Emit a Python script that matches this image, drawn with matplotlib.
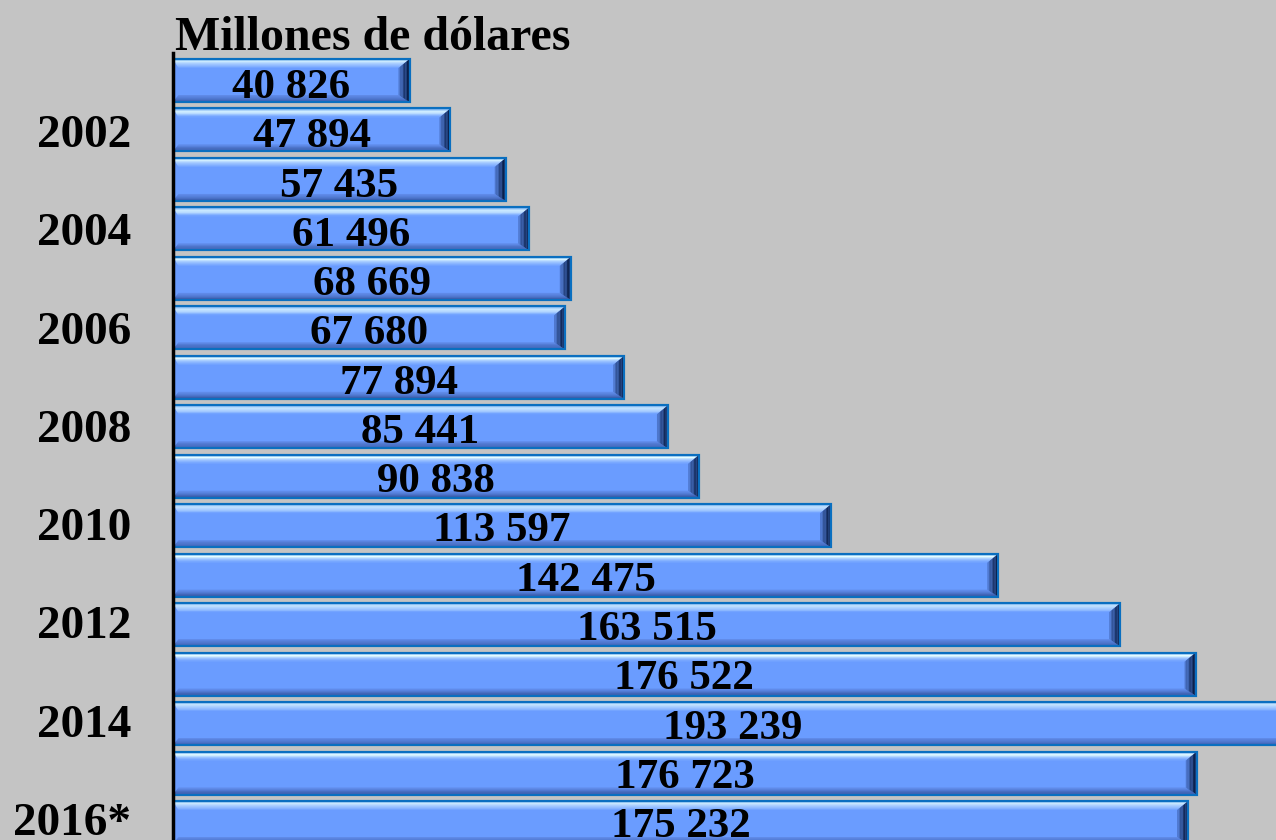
import matplotlib
matplotlib.use("Agg")
from matplotlib import pyplot as plt
from matplotlib.patches import Polygon
import numpy as np

years = ["2001", "2002", "2003", "2004", "2005", "2006", "2007", "2008",
         "2009", "2010", "2011", "2012", "2013", "2014", "2015", "2016*"]
values = [40826, 47894, 57435, 61496, 68669, 67680, 77894, 85441,
          90838, 113597, 142475, 163515, 176522, 193239, 176723, 175232]
year_labels = ["", "2002", "", "2004", "", "2006", "", "2008",
               "", "2010", "", "2012", "", "2014", "", "2016*"]
title = "Millones de dólares"

BG = "#c4c4c4"
FILL = "#6a9cff"
EDGE = "#0a6fc0"

plt.rcParams["font.family"] = ["Liberation Serif", "DejaVu Serif"]
plt.rcParams["font.weight"] = "bold"

W, H = 1276, 840
fig = plt.figure(figsize=(W / 100, H / 100), dpi=100, facecolor=BG)
left_px = 173
ax = fig.add_axes([left_px / W, 0, 1 - left_px / W, 1])
ax.set_facecolor(BG)

pitch = 49.47
c0 = 80.5
xmax = 190400
ax.set_xlim(0, xmax)
ax.set_ylim((H - c0) / pitch, -c0 / pitch)

bar_h = 0.87
y = np.arange(len(values))
ax.barh(y, values, height=bar_h, color=FILL, edgecolor=EDGE, linewidth=1.5, zorder=2)

# bevel sizes in data units
px_x = xmax / (W - left_px)
px_y = 1 / pitch
bx = 11 * px_x
by = 9 * px_y
bb = 7 * px_y


def lerp(c1, c2, t):
    c1 = np.array(matplotlib.colors.to_rgb(c1))
    c2 = np.array(matplotlib.colors.to_rgb(c2))
    return tuple(c1 + (c2 - c1) * t)


def top_col(t):
    if t < 0.3:
        return lerp("#3c8ae0", "#e6ffff", t / 0.3)
    return lerp("#e6ffff", FILL, (t - 0.3) / 0.7)


n = 8
for yi, v in zip(y, values):
    top = yi - bar_h / 2
    bot = yi + bar_h / 2
    # top bevel: bright band fading into the fill
    for k in range(n):
        t0, t1 = k / n, (k + 1) / n
        ya, yb = top + t0 * by, top + t1 * by
        ax.add_patch(Polygon([(t0 * bx * 0.5, ya), (v - t0 * bx, ya),
                              (v - t1 * bx, yb), (t1 * bx * 0.5, yb)],
                             closed=True, facecolor=top_col((t0 + t1) / 2),
                             edgecolor="none", zorder=3))
    # bottom bevel
    for k in range(n):
        t0, t1 = k / n, (k + 1) / n
        ya, yb = bot - t0 * bb, bot - t1 * bb
        col = lerp("#30509a", "#6590f0", t0)
        ax.add_patch(Polygon([(t0 * bx * 0.5, ya), (v - t0 * bx, ya),
                              (v - t1 * bx, yb), (t1 * bx * 0.5, yb)],
                             closed=True, facecolor=col, edgecolor="none", zorder=3))
    # right bevel
    for k in range(n):
        t0, t1 = k / n, (k + 1) / n
        xa, xb = v - t0 * bx, v - t1 * bx
        col = lerp("#041840", "#5b88e6", t0 ** 1.3)
        ax.add_patch(Polygon([(xa, top + t0 * by), (xb, top + t1 * by),
                              (xb, bot - t1 * bb), (xa, bot - t0 * bb)],
                             closed=True, facecolor=col, edgecolor="none", zorder=3))
    # outline on top of bevels
    ax.add_patch(plt.Rectangle((0, top), v, bar_h, facecolor="none",
                               edgecolor=EDGE, linewidth=1.5, zorder=4))
    ax.text(v / 2, yi + (17.5 - 0.2 * yi) * px_y, f"{v:,}".replace(",", " "),
            ha="center", va="baseline", fontsize=31, fontweight="bold",
            color="black", zorder=5)

# year labels on the left
for yi, lab in zip(y, year_labels):
    if lab:
        ax.text(-42 * px_x, yi + (17.5 - 0.35 * yi) * px_y, lab, ha="right",
                va="baseline", fontsize=34, fontweight="bold", color="black",
                clip_on=False)

ax.set_yticks([])
ax.set_xticks([])
for s in ["top", "right", "bottom"]:
    ax.spines[s].set_visible(False)
ax.spines["left"].set_linewidth(2.5)
ax.spines["left"].set_zorder(6)
ax.spines["left"].set_bounds(-0.5 - 3 * px_y, (H - c0) / pitch)

fig.text(175 / W, 1 - 50 / H, title, ha="left", va="baseline",
         fontsize=34.5, fontweight="bold", color="black")

fig.savefig("out.png", dpi=100, facecolor=BG)
